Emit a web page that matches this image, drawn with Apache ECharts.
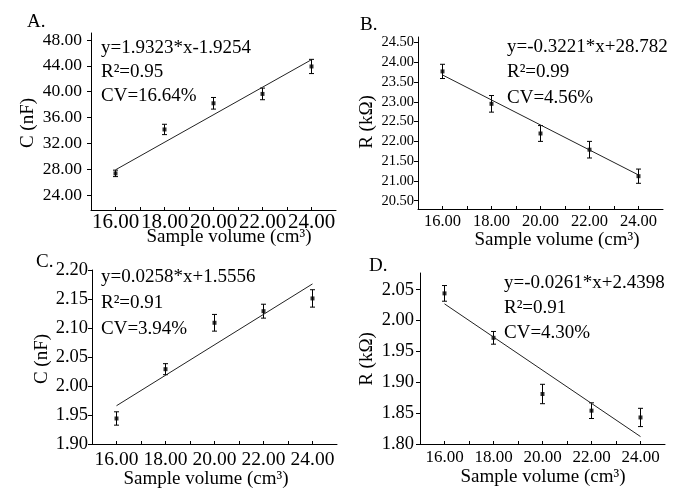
<!DOCTYPE html>
<html><head><meta charset="utf-8">
<script src="https://cdn.jsdelivr.net/npm/echarts@6/dist/echarts.min.js"></script>
<style>html,body{margin:0;padding:0;background:#fff}#c{width:684px;height:488px}</style>
</head><body><div id="c"></div>
<script>
// ---- data ----
const volume = [16, 18, 20, 22, 24];
const xLabelTicks = [16, 18, 20, 22, 24];
const xMinorTicks = [16, 17, 18, 19, 20, 21, 22, 23, 24];

const capA = [27.35, 34.15, 38.2, 39.65, 43.9];
const capAErr = [0.5, 0.8, 0.9, 0.9, 1.1];
const fitAx = [16, 24];
const fitAy = [27.9, 44.95];
const ticksA = [24, 28, 32, 36, 40, 44, 48];

const resB = [23.77, 22.95, 22.2, 21.79, 21.12];
const resBErr = [0.18, 0.21, 0.2, 0.21, 0.18];
const fitBx = [16, 24];
const fitBy = [23.68, 21.15];
const ticksB = [20.5, 21, 21.5, 22, 22.5, 23, 23.5, 24, 24.5];

const capC = [1.944, 2.029, 2.109, 2.129, 2.151];
const capCErr = [0.0115, 0.0095, 0.0144, 0.012, 0.015];
const fitCx = [16, 24];
const fitCy = [1.966, 2.176];
const ticksC = [1.9, 1.95, 2.0, 2.05, 2.1, 2.15, 2.2];

const resD = [2.044, 1.972, 1.881, 1.854, 1.843];
const resDErr = [0.0127, 0.0103, 0.0157, 0.0127, 0.0148];
const fitDx = [16, 24];
const fitDy = [2.027, 1.812];
const ticksD = [1.8, 1.85, 1.9, 1.95, 2.0, 2.05];

const eqText = ['y=1.9323*x-1.9254', 'y=-0.3221*x+28.782', 'y=0.0258*x+1.5556', 'y=-0.0261*x+2.4398'];
const r2Text = ['R²=0.95', 'R²=0.99', 'R²=0.91', 'R²=0.91'];
const cvText = ['CV=16.64%', 'CV=4.56%', 'CV=3.94%', 'CV=4.30%'];
const panelLabels = ['A.', 'B.', 'C.', 'D.'];
const yTitles = ['C (nF)', 'R (kΩ)', 'C (nF)', 'R (kΩ)'];
const xTitle = 'Sample volume (cm³)';

// ---- layout ----
const FONT = "'Liberation Serif','Times New Roman',serif";
const panels = [
  {grid:{left:91, top:33, width:245, height:177}, ymin:21.68, ymax:49.08, yt:ticksA, ys:capA, ye:capAErr, fx:fitAx, fy:fitAy,
   yfs:17.5, xfs:21, ymargin:9, xmargin:2, text:[101,48,24], label:[27,22], ytitle:[28,123], xtitle:[229,237]},
  {grid:{left:418, top:37, width:245, height:172}, ymin:20.29, ymax:24.64, yt:ticksB, ys:resB, ye:resBErr, fx:fitBx, fy:fitBy,
   yfs:14.5, xfs:16.5, ymargin:4, xmargin:4, text:[507,47,25.5], label:[360,25], ytitle:[367,122], xtitle:[557,240]},
  {grid:{left:92, top:270, width:245, height:174}, ymin:1.9, ymax:2.2, yt:ticksC, ys:capC, ye:capCErr, fx:fitCx, fy:fitCy,
   yfs:18.5, xfs:19.5, ymargin:4, xmargin:6, text:[101,277,26], label:[36,262], ytitle:[42,359], xtitle:[206,479]},
  {grid:{left:420, top:273, width:245, height:171}, ymin:1.8, ymax:2.077, yt:ticksD, ys:resD, ye:resDErr, fx:fitDx, fy:fitDy,
   yfs:18.5, xfs:17, ymargin:6, xmargin:5, text:[504,283,25], label:[369,266], ytitle:[367,359], xtitle:[543,477]}
];

const grids = [], xAxes = [], yAxes = [], series = [], graphics = [];
panels.forEach((p, i) => {
  grids.push(Object.assign({containLabel:false}, p.grid));
  xAxes.push({
    type:'value', gridIndex:i, min:15, max:25,
    axisLine:{show:true, onZero:false, lineStyle:{color:'#000', width:1}},
    axisTick:{show:true, inside:true, length:3, customValues:xMinorTicks, lineStyle:{color:'#000'}},
    axisLabel:{customValues:xLabelTicks, formatter:v=>v.toFixed(2), color:'#000', fontFamily:FONT, fontSize:p.xfs, margin:p.xmargin},
    splitLine:{show:false}
  });
  yAxes.push({
    type:'value', gridIndex:i, min:p.ymin, max:p.ymax,
    axisLine:{show:true, onZero:false, lineStyle:{color:'#000', width:1}},
    axisTick:{show:true, inside:false, length:4, customValues:p.yt, lineStyle:{color:'#000'}},
    axisLabel:{customValues:p.yt, formatter:v=>v.toFixed(2), color:'#000', fontFamily:FONT, fontSize:p.yfs, margin:p.ymargin},
    splitLine:{show:false}
  });
  // fit line
  series.push({
    type:'line', xAxisIndex:i, yAxisIndex:i, showSymbol:false, silent:true,
    data:p.fx.map((x,k)=>[x, p.fy[k]]),
    lineStyle:{color:'#222', width:1}
  });
  // error bars
  series.push({
    type:'custom', xAxisIndex:i, yAxisIndex:i, silent:true,
    encode:{x:0, y:1},
    data:volume.map((x,k)=>[x, p.ys[k], p.ye[k]]),
    renderItem:function(params, api){
      const x = api.value(0), y = api.value(1), e = api.value(2);
      const t = api.coord([x, y+e]), b = api.coord([x, y-e]);
      const w = 2.5, st = {stroke:'#000', lineWidth:1};
      return {type:'group', children:[
        {type:'line', shape:{x1:t[0], y1:t[1], x2:b[0], y2:b[1]}, style:st},
        {type:'line', shape:{x1:t[0]-w, y1:t[1], x2:t[0]+w, y2:t[1]}, style:st},
        {type:'line', shape:{x1:b[0]-w, y1:b[1], x2:b[0]+w, y2:b[1]}, style:st}
      ]};
    }
  });
  // points
  series.push({
    type:'scatter', xAxisIndex:i, yAxisIndex:i, silent:true, symbol:'rect', symbolSize:4,
    itemStyle:{color:'#000'},
    data:volume.map((x,k)=>[x, p.ys[k]])
  });
  // texts
  const tfs = 19;
  [eqText[i], r2Text[i], cvText[i]].forEach((t, k) => {
    graphics.push({type:'text', x:p.text[0], y:p.text[1] + k*p.text[2],
      style:{text:t, font:tfs+'px '+FONT, fill:'#000', textVerticalAlign:'middle', textAlign:'left'}});
  });
  graphics.push({type:'text', x:p.label[0], y:p.label[1],
    style:{text:panelLabels[i], font:'19px '+FONT, fill:'#000', textVerticalAlign:'middle', textAlign:'left'}});
  graphics.push({type:'text', x:p.ytitle[0], y:p.ytitle[1], rotation:Math.PI/2,
    style:{text:yTitles[i], font:'19px '+FONT, fill:'#000', textVerticalAlign:'middle', textAlign:'center'}});
  graphics.push({type:'text', x:p.xtitle[0], y:p.xtitle[1],
    style:{text:xTitle, font:'19px '+FONT, fill:'#000', textVerticalAlign:'middle', textAlign:'center'}});
});

const chart = echarts.init(document.getElementById('c'), null, {renderer:'canvas'});
chart.setOption({
  animation:false,
  backgroundColor:'#fff',
  grid:grids, xAxis:xAxes, yAxis:yAxes, series:series, graphic:graphics
});
</script></body></html>
